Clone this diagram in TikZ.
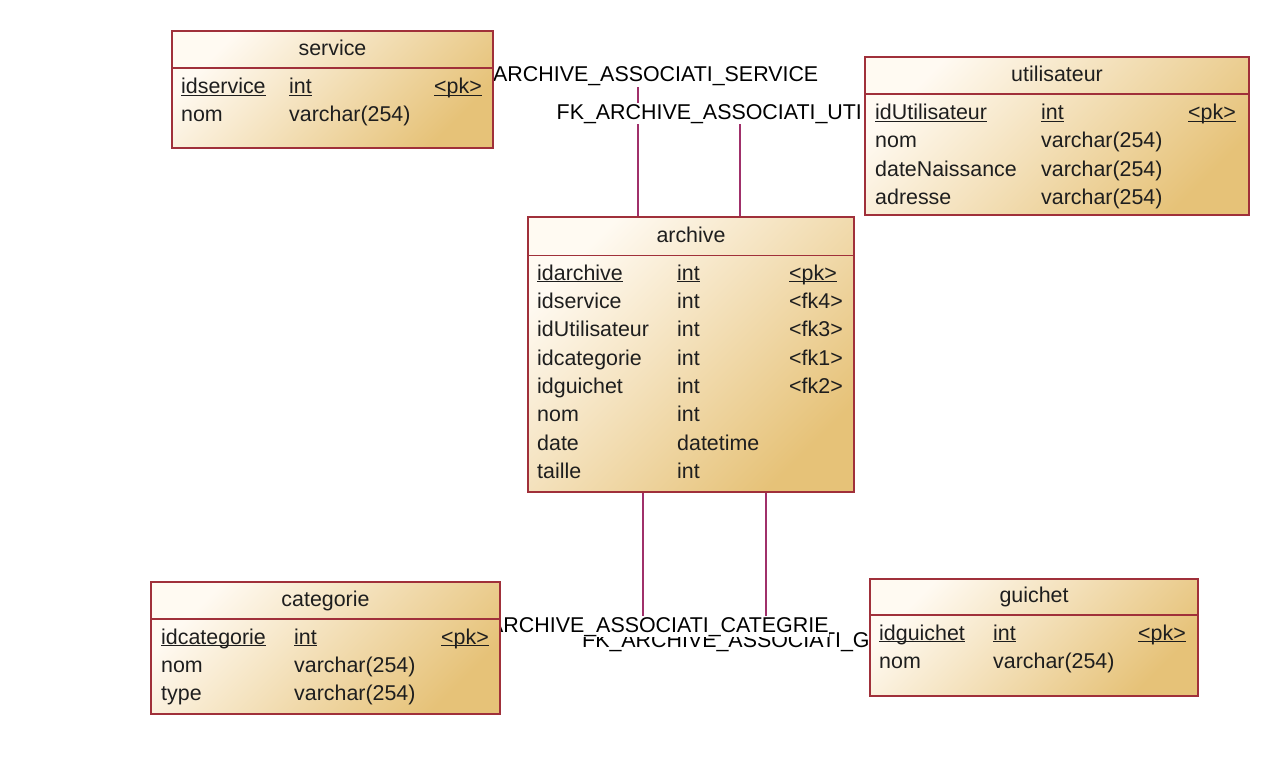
\documentclass[tikz,border=0pt]{standalone}
\usepackage{fontspec}
\setmainfont{Liberation Sans}
\newcommand\erfont{\fontsize{21.4}{25}\selectfont}
\newcommand\pkul[1]{\underline{\raisebox{0pt}[\height][0pt]{#1}}}
\definecolor{bordercol}{HTML}{A0303A}
\definecolor{conncol}{HTML}{A0306A}
\definecolor{creamcol}{HTML}{FFFAF2}
\definecolor{tancol}{HTML}{E6C278}
\definecolor{txtcol}{HTML}{1E1E1E}
\pgfdeclarelayer{bgzero}
\pgfdeclarelayer{bgone}
\pgfsetlayers{bgzero,bgone,main}
\begin{document}
\begin{tikzpicture}[x=1pt,y=-1pt,
  tbl/.style={draw=bordercol, line width=1.4pt, top color=creamcol, bottom color=tancol, shading angle=45, anchor=north west, inner sep=0pt, outer sep=0pt},
  sepline/.style={draw=bordercol, line width=1.4pt},
  fld/.style={font=\erfont, text=txtcol, anchor=base west, inner sep=0pt},
  ttl/.style={font=\erfont, text=txtcol, anchor=base, inner sep=0pt},
  conn/.style={draw=conncol, line width=1.4pt},
  lbl/.style={font=\erfont, text=black, anchor=base west, fill=white, inner xsep=0pt, inner ysep=1pt}]
\useasboundingbox (0,0) rectangle (1287,768);

% ---------- service ----------
\node[tbl, minimum width=321pt, minimum height=117pt] (service) at (172,31) {};
\draw[sepline] ([yshift=-37pt]service.north west) -- ([yshift=-37pt]service.north east);
\node[ttl] (serviceT) at (332.5,56) {service};
\node[fld] (s1a) at (181,93.5) {\pkul{idservice}};
\node[fld] (s1b) at (289,93.5) {\pkul{int}};
\node[fld] (s1c) at (434,93.5) {\pkul{<pk>}};
\node[fld] (s2a) at (181,121.8) {nom};
\node[fld] (s2b) at (289,121.8) {varchar(254)};

% ---------- utilisateur ----------
\node[tbl, minimum width=384pt, minimum height=158pt] (util) at (865,57) {};
\draw[sepline] ([yshift=-37pt]util.north west) -- ([yshift=-37pt]util.north east);
\node[ttl] (utilT) at (1057,81.5) {utilisateur};
\node[fld] (u1a) at (875,119.5) {\pkul{idUtilisateur}};
\node[fld] (u1b) at (1041,119.5) {\pkul{int}};
\node[fld] (u1c) at (1188,119.5) {\pkul{<pk>}};
\node[fld] (u2a) at (875,147.8) {nom};
\node[fld] (u2b) at (1041,147.8) {varchar(254)};
\node[fld] (u3a) at (875,176.2) {dateNaissance};
\node[fld] (u3b) at (1041,176.2) {varchar(254)};
\node[fld] (u4a) at (875,204.5) {adresse};
\node[fld] (u4b) at (1041,204.5) {varchar(254)};

% ---------- archive ----------
\node[tbl, minimum width=326pt, minimum height=275pt] (archive) at (528,217) {};
\draw[sepline] ([yshift=-38.5pt]archive.north west) -- ([yshift=-38.5pt]archive.north east);
\node[ttl] (archiveT) at (691,242.5) {archive};
\node[fld] (a1a) at (537,280) {\pkul{idarchive}};
\node[fld] (a1b) at (677,280) {\pkul{int}};
\node[fld] (a1c) at (789,280) {\pkul{<pk>}};
\node[fld] (a2a) at (537,308.4) {idservice};
\node[fld] (a2b) at (677,308.4) {int};
\node[fld] (a2c) at (789,308.4) {<fk4>};
\node[fld] (a3a) at (537,336.7) {idUtilisateur};
\node[fld] (a3b) at (677,336.7) {int};
\node[fld] (a3c) at (789,336.7) {<fk3>};
\node[fld] (a4a) at (537,365.1) {idcategorie};
\node[fld] (a4b) at (677,365.1) {int};
\node[fld] (a4c) at (789,365.1) {<fk1>};
\node[fld] (a5a) at (537,393.4) {idguichet};
\node[fld] (a5b) at (677,393.4) {int};
\node[fld] (a5c) at (789,393.4) {<fk2>};
\node[fld] (a6a) at (537,421.8) {nom};
\node[fld] (a6b) at (677,421.8) {int};
\node[fld] (a7a) at (537,450.1) {date};
\node[fld] (a7b) at (677,450.1) {datetime};
\node[fld] (a8a) at (537,478.5) {taille};
\node[fld] (a8b) at (677,478.5) {int};

% ---------- categorie ----------
\node[tbl, minimum width=349pt, minimum height=132pt] (categorie) at (151,582) {};
\draw[sepline] ([yshift=-37pt]categorie.north west) -- ([yshift=-37pt]categorie.north east);
\node[ttl] (categorieT) at (325.5,606.5) {categorie};
\node[fld] (c1a) at (161,644) {\pkul{idcategorie}};
\node[fld] (c1b) at (294,644) {\pkul{int}};
\node[fld] (c1c) at (441,644) {\pkul{<pk>}};
\node[fld] (c2a) at (161,672.4) {nom};
\node[fld] (c2b) at (294,672.4) {varchar(254)};
\node[fld] (c3a) at (161,700.7) {type};
\node[fld] (c3b) at (294,700.7) {varchar(254)};

% ---------- guichet ----------
\node[tbl, minimum width=328pt, minimum height=117pt] (guichet) at (870,579) {};
\draw[sepline] ([yshift=-36pt]guichet.north west) -- ([yshift=-36pt]guichet.north east);
\node[ttl] (guichetT) at (1034,602.5) {guichet};
\node[fld] (g1a) at (879,640) {\pkul{idguichet}};
\node[fld] (g1b) at (993,640) {\pkul{int}};
\node[fld] (g1c) at (1138,640) {\pkul{<pk>}};
\node[fld] (g2a) at (879,668.4) {nom};
\node[fld] (g2b) at (993,668.4) {varchar(254)};

% ---------- connectors and their labels ----------
\coordinate (svcend) at (638,84);
\coordinate (utiend) at (740,115);
\coordinate (catend) at (643,622);
\coordinate (guiend) at (766,622);
\begin{pgfonlayer}{bgzero}
\draw[conn] ([xshift=110pt]archive.north west) -- (svcend);
\draw[conn] ([xshift=212pt]archive.north west) -- (utiend);
\draw[conn] ([xshift=115pt]archive.south west) -- (catend);
\draw[conn] ([xshift=238pt]archive.south west) -- (guiend);
\end{pgfonlayer}
\begin{pgfonlayer}{bgone}
\node[lbl] (lblsvc) at (493,81.5) {ARCHIVE\_ASSOCIATI\_SERVICE};
\node[lbl] (lbluti) at (556.5,119) {FK\_ARCHIVE\_ASSOCIATI\_UTI};
\node[lbl] (lblgui) at (582,647) {FK\_ARCHIVE\_ASSOCIATI\_G};
\node[lbl] (lblcat) at (489,632) {ARCHIVE\_ASSOCIATI\_CATEGRIE};
\end{pgfonlayer}
\end{tikzpicture}
\end{document}
